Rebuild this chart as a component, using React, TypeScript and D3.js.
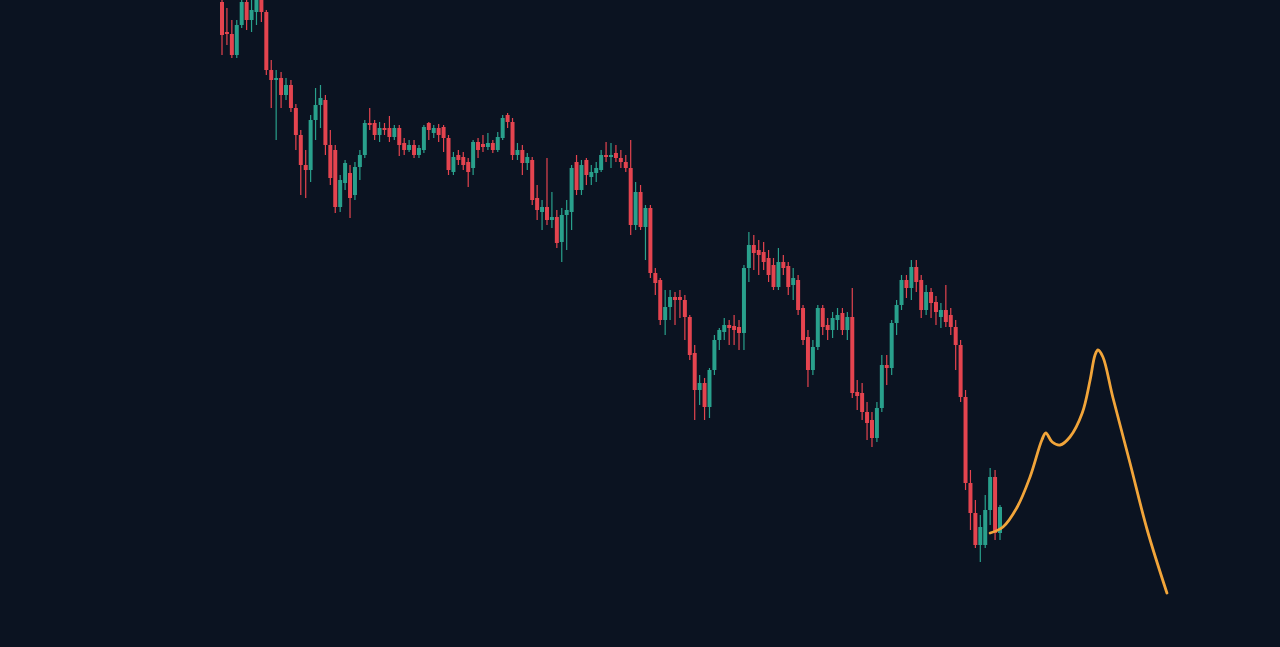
import React from "react";
import * as d3 from "d3";

const W = 1280;
const H = 647;

// OHLC candles (price units)
const opens = [698,668,666,645,675,698,680,688,700,688,630,620,622,605,615,592,565,535,530,580,595,600,555,550,493,517,527,505,533,545,577,577,565,572,572,563,572,557,550,555,545,550,577,567,572,573,562,528,545,543,538,532,558,556,553,557,550,562,585,578,545,550,537,540,502,488,493,480,483,458,485,488,538,510,540,523,527,530,545,543,547,542,538,532,475,508,473,492,427,420,380,393,403,403,400,383,347,310,317,293,330,360,368,375,374,373,367,432,455,450,448,442,435,413,438,434,415,420,392,363,330,353,392,375,370,380,387,370,383,308,307,288,280,262,292,335,332,377,395,420,412,433,420,390,408,398,383,390,385,373,355,303,217,187,155,155,190,223,167];
const highs = [710,692,680,680,710,710,700,710,710,690,640,630,628,622,620,596,570,550,585,612,615,605,570,555,525,540,535,538,550,580,592,580,578,577,584,575,575,562,560,560,555,575,578,575,576,575,565,548,550,548,542,560,562,565,567,560,568,585,587,582,557,555,547,543,515,500,542,508,490,492,500,535,545,540,542,535,538,550,558,557,555,550,545,560,518,515,495,495,432,422,410,410,408,410,405,385,355,325,322,332,365,372,382,380,385,380,435,468,465,460,458,450,442,452,445,438,432,425,395,370,360,395,395,382,388,392,392,388,412,320,317,298,288,298,345,345,380,400,425,425,440,440,425,415,412,404,397,415,392,380,360,310,230,200,185,205,232,230,195];
const lows = [645,655,642,642,672,670,668,675,678,625,592,560,592,600,588,550,505,502,518,560,572,545,515,487,488,510,482,500,520,542,570,560,558,565,558,560,544,545,548,542,542,547,560,562,558,548,525,525,535,530,513,525,542,548,550,547,548,560,572,540,540,525,530,495,480,470,475,472,452,438,450,470,505,505,515,515,518,528,538,532,538,532,528,465,470,470,440,422,405,375,365,380,375,382,360,340,280,295,280,282,325,350,360,355,355,350,350,418,430,425,430,418,410,410,425,405,400,385,355,313,325,350,365,360,362,370,365,360,302,290,280,260,253,258,288,315,325,365,390,402,400,408,382,385,382,375,372,373,365,330,298,210,170,152,138,152,175,160,160];
const closes = [665,666,645,675,698,680,690,700,688,630,620,622,605,615,592,565,535,530,580,595,602,555,522,493,520,537,502,533,545,577,575,565,572,570,563,572,555,550,555,545,552,573,570,572,565,562,530,543,540,535,528,558,550,553,557,550,563,582,578,545,550,537,543,500,490,493,480,483,457,485,490,532,510,535,525,528,532,545,543,545,542,538,532,475,508,473,492,427,417,380,393,403,400,400,383,345,310,317,293,330,360,370,375,372,370,367,432,455,447,445,438,425,413,438,432,413,422,390,360,330,353,392,373,370,382,385,370,383,307,304,288,277,262,292,335,332,377,395,420,412,433,418,390,408,397,388,390,378,373,355,303,217,187,155,173,190,223,167,193];

// projected path (bar index, price)
const projIndex = [156.0,158.6,161.5,164.1,166.5,167.3,168.6,170.2,172.2,174.7,176.3,177.3,177.9,178.9,180.9,184.4,187.9,191.9];
const projPrice = [167,173,193,223,260,267,258,255,263,287,320,345,350,343,303,237,170,107];

const BG = "#0b1321";
const UP = "#29a08c";
const DOWN = "#e4444f";
const PROJ = "#f2a53a";

export default function App() {
  const n = closes.length;
  const x = d3.scaleLinear().domain([0, n - 1]).range([222, 1000]);
  const y = d3.scaleLinear().domain([700, 53]).range([0, H]);
  const bodyW = 4;

  const line = d3
    .line<number>()
    .x((_, i) => x(projIndex[i]))
    .y((d) => y(d))
    .curve(d3.curveCatmullRom.alpha(0.5));

  return (
    <svg
      width={W}
      height={H}
      style={{ position: "fixed", left: 0, top: 0, display: "block" }}
    >
      <rect x={0} y={0} width={W} height={H} fill={BG} />
      {closes.map((c, i) => {
        const o = opens[i];
        const up = c >= o;
        const col = up ? UP : DOWN;
        const cx = x(i);
        const top = y(Math.max(o, c));
        const bot = y(Math.min(o, c));
        return (
          <g key={i}>
            <line
              x1={cx}
              x2={cx}
              y1={y(highs[i])}
              y2={y(lows[i])}
              stroke={col}
              strokeWidth={1.2}
            />
            <rect
              x={cx - bodyW / 2}
              y={top}
              width={bodyW}
              height={Math.max(1.2, bot - top)}
              fill={col}
            />
          </g>
        );
      })}
      <path
        d={line(projPrice) || ""}
        fill="none"
        stroke={PROJ}
        strokeWidth={2.8}
        strokeLinecap="round"
        strokeLinejoin="round"
      />
    </svg>
  );
}
